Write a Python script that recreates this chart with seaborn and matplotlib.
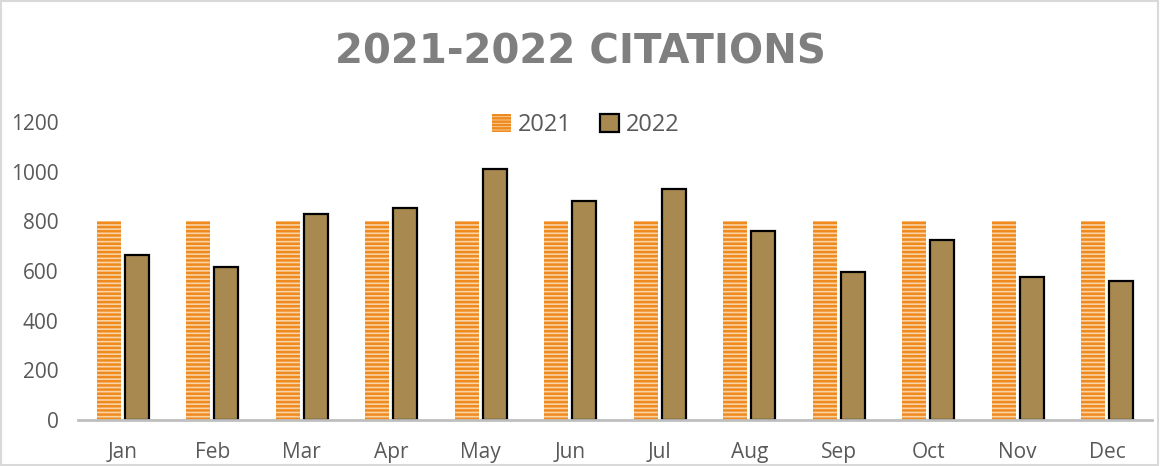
import matplotlib
matplotlib.use("Agg")
import matplotlib.pyplot as plt
from matplotlib.patches import Patch, Rectangle
import seaborn as sns
import pandas as pd

months = ["Jan", "Feb", "Mar", "Apr", "May", "Jun", "Jul", "Aug", "Sep", "Oct", "Nov", "Dec"]
series_2021 = [800, 800, 800, 800, 800, 800, 800, 800, 800, 800, 800, 800]
series_2022 = [665, 615, 830, 855, 1010, 880, 930, 760, 595, 725, 575, 560]
years = ["2021", "2022"]
title = "2021-2022 CITATIONS"
yticks = [0, 200, 400, 600, 800, 1000, 1200]

df = pd.DataFrame({
    "month": months * 2,
    "value": series_2021 + series_2022,
    "year": [years[0]] * len(months) + [years[1]] * len(months),
})

sns.set_theme(style="white")
plt.rcParams["font.family"] = ["Open Sans", "DejaVu Sans"]
plt.rcParams["hatch.linewidth"] = 1.8

TXT = "#595959"
ORANGE_LIGHT = "#FAD3A6"
ORANGE = "#EE8A1E"
BROWN = "#A88A50"

fig = plt.figure(figsize=(11.6, 4.66), dpi=100)
ax = fig.add_axes([78 / 1160, 46 / 466, (1152 - 78) / 1160, (420 - 122) / 466])

sns.barplot(data=df, x="month", y="value", hue="year", order=months, hue_order=years,
            palette={years[0]: ORANGE_LIGHT, years[1]: BROWN}, width=0.62, gap=0.14,
            ax=ax, legend=False, errorbar=None)

n = len(months)
for i, p in enumerate(ax.patches[:2 * n]):
    if i < n:
        p.set_facecolor(ORANGE_LIGHT)
        p.set_edgecolor(ORANGE)
        p.set_hatch("----")
        p.set_linewidth(0)
    else:
        p.set_facecolor(BROWN)
        p.set_edgecolor("black")
        p.set_linewidth(1.6)

ax.set_ylim(0, 1200)
ax.set_xlim(-0.5, n - 0.5)
ax.set_yticks(yticks)
ax.set_yticklabels([str(v) for v in yticks])
ax.tick_params(axis="y", labelsize=15, colors=TXT, length=0, pad=14)
ax.tick_params(axis="x", labelsize=15, colors=TXT, length=0, pad=16)
ax.set_xlabel("")
ax.set_ylabel("")
for s in ["top", "right", "left"]:
    ax.spines[s].set_visible(False)
ax.spines["bottom"].set_color("#BFBFBF")
ax.spines["bottom"].set_linewidth(2)
ax.grid(False)

h1 = Patch(facecolor=ORANGE_LIGHT, edgecolor=ORANGE, hatch="-----", linewidth=0, label=years[0])
h2 = Patch(facecolor=BROWN, edgecolor="black", linewidth=1.6, label=years[1])
leg = fig.legend(handles=[h1, h2], loc="center", bbox_to_anchor=(586 / 1160, 1 - 125 / 466),
                 ncol=2, frameon=False, fontsize=17, handlelength=0.8, handleheight=0.8,
                 handletextpad=0.3, columnspacing=1.2)
for t in leg.get_texts():
    t.set_color(TXT)

fig.text(580 / 1160, 1 - 52 / 466, title, ha="center", va="center", fontsize=29,
         fontweight="bold", color="#7F7F7F", family=["DejaVu Sans"])

fig.patches.append(Rectangle((0.001, 0.002), 0.997, 0.995, transform=fig.transFigure,
                             fill=False, edgecolor="#D9D9D9", linewidth=1.5))

fig.savefig("out.png", dpi=100)
